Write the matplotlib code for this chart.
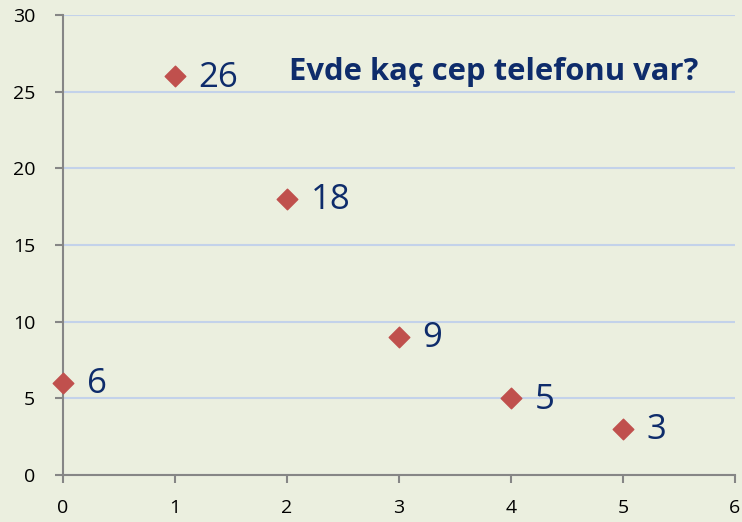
import matplotlib
matplotlib.use("Agg")
import matplotlib.pyplot as plt

# phones per household -> number of households
phones = [0, 1, 2, 3, 4, 5]
counts = [6, 26, 18, 9, 5, 3]
title = "Evde kaç cep telefonu var?"

bg = "#EBEFDF"
navy = "#0E2C6B"

fig = plt.figure(figsize=(7.42, 5.22), dpi=100, facecolor=bg)
ax = fig.add_axes([63/742, 47/522, 672/742, 460/522], facecolor=bg)

ax.scatter(phones, counts, marker="D", s=110, color="#C0504D", zorder=3, clip_on=False)
for x, y in zip(phones, counts):
    ax.annotate(str(y), (x, y), xytext=(17, -1), textcoords="offset points",
                va="center", ha="left", fontsize=25, color=navy, family="Open Sans")

# title sits inside the plot area, upper right
ax.text(2.02, 26.3, title, fontsize=22.3, fontweight="bold", color=navy,
        family="Open Sans", ha="left", va="center")

ax.set_xlim(0, 6)
ax.set_ylim(0, 30)
ax.set_xticks(range(0, 7))
ax.set_yticks(range(0, 31, 5))
ax.yaxis.grid(True, color="#C3D2EA", linewidth=1.5)
ax.set_axisbelow(True)
for side in ["top", "right"]:
    ax.spines[side].set_visible(False)
for side in ["left", "bottom"]:
    ax.spines[side].set_color("#868686")
    ax.spines[side].set_linewidth(1.5)
ax.tick_params(colors="#868686", width=1.5, length=6, labelsize=14, labelcolor="black")
ax.tick_params(axis="x", pad=11)
ax.tick_params(axis="y", pad=14)
for lbl in ax.get_xticklabels() + ax.get_yticklabels():
    lbl.set_family("Open Sans")

fig.savefig("out.png", dpi=100, facecolor=bg)
